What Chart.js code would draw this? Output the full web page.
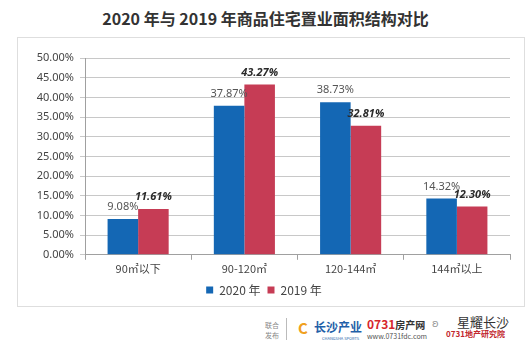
<!DOCTYPE html>
<html lang="zh">
  <head>
    <meta charset="UTF-8" />
    <title>面积结构对比</title>
    <script src="https://cdn.jsdelivr.net/npm/chart.js/dist/chart.umd.min.js"></script>
    <style>
      body {
        margin: 0;
        width: 531px;
        height: 345px;
        background: #fff;
        position: relative;
        overflow: hidden;
        font-family: "Noto Sans CJK SC", "Noto Sans", sans-serif;
      }
      .title {
        position: absolute;
        left: 0;
        width: 531px;
        top: 6px;
        text-align: center;
        font-size: 16px;
        font-weight: bold;
        color: #333;
      }
      .box {
        position: absolute;
        left: 17px;
        top: 37px;
        width: 508px;
        height: 270px;
        border: 1px solid #dedede;
        box-sizing: border-box;
      }
      .chart-wrap {
        position: relative;
        width: 506px;
        height: 268px;
      }
      .foot {
        position: absolute;
        white-space: nowrap;
        line-height: 1;
      }
    </style>
  </head>
  <body>
    <div class="title">2020 年与 2019 年商品住宅置业面积结构对比</div>
    <div class="box">
      <div class="chart-wrap"><canvas id="areaChart"></canvas></div>
    </div>

    <div class="foot" style="left:265px;top:320px;font-size:7px;color:#888;line-height:10px">联合<br>发布</div>
    <div class="foot" style="left:286px;top:318px;width:1px;height:22px;background:#bbb"></div>
    <div class="foot" style="left:298px;top:320px;font-size:15px;font-weight:bold;color:#f0a020">C</div>
    <div class="foot" style="left:314px;top:321px;font-size:12px;font-weight:bold;color:#1f5fa8">长沙产业</div>
    <div class="foot" style="left:322px;top:336px;font-size:4px;color:#1f5fa8">CHANGSHA SPORTS</div>
    <div class="foot" style="left:367px;top:318px;font-size:12px;font-weight:bold;color:#d6262c">0731<span style="font-size:10px;color:#333">房产网</span></div>
    <div class="foot" style="left:367px;top:333px;font-size:7px;color:#555">www.0731fdc.com</div>
    <div class="foot" style="left:432px;top:317px;font-size:11px;color:#999">ʚ</div>
    <div class="foot" style="left:457px;top:315px;font-size:13px;color:#333">星耀长沙</div>
    <div class="foot" style="left:446px;top:330px;font-size:8px;font-weight:bold;color:#c2272d">0731地产研究院</div>

    <script>
      // 数据
      const categories = ["90㎡以下", "90-120㎡", "120-144㎡", "144㎡以上"];
      const seriesNames = ["2020 年", "2019 年"];
      const values2020 = [9.08, 37.87, 38.73, 14.32];
      const values2019 = [11.61, 43.27, 32.81, 12.30];

      // 柱顶数值标签
      const valueLabels = {
        id: "valueLabels",
        afterDatasetsDraw(chart) {
          const ctx = chart.ctx;
          ctx.save();
          ctx.textAlign = "center";
          ctx.textBaseline = "middle";
          chart.data.datasets.forEach((ds, i) => {
            const meta = chart.getDatasetMeta(i);
            if (i === 0) {
              ctx.font = '11px "Noto Sans", sans-serif';
              ctx.fillStyle = "#555";
            } else {
              ctx.font = 'italic bold 11px "Noto Sans", sans-serif';
              ctx.fillStyle = "#2a2a2a";
            }
            meta.data.forEach((bar, j) => {
              ctx.fillText(ds.data[j].toFixed(2) + "%", bar.x, bar.y - 12);
            });
          });
          ctx.restore();
        },
      };

      new Chart(document.getElementById("areaChart"), {
        type: "bar",
        data: {
          labels: categories,
          datasets: [
            {
              label: seriesNames[0],
              data: values2020,
              backgroundColor: "#1467b4",
              categoryPercentage: 0.575,
              barPercentage: 1,
            },
            {
              label: seriesNames[1],
              data: values2019,
              backgroundColor: "#c63c55",
              categoryPercentage: 0.575,
              barPercentage: 1,
            },
          ],
        },
        options: {
          responsive: true,
          maintainAspectRatio: false,
          animation: false,
          layout: { padding: { top: 20, right: 14, left: 0, bottom: 0 } },
          plugins: {
            tooltip: { enabled: false },
            legend: {
              position: "bottom",
              labels: {
                usePointStyle: true,
                pointStyle: "rect",
                boxWidth: 7,
                boxHeight: 7,
                padding: 7,
                color: "#444",
                font: { size: 12, family: '"Noto Sans CJK SC", sans-serif' },
              },
            },
          },
          scales: {
            x: {
              offset: true,
              grid: {
                offset: true,
                drawOnChartArea: false,
                drawTicks: true,
                tickLength: 5,
                color: "#a0a0a0",
              },
              border: { color: "#a0a0a0" },
              ticks: {
                color: "#444",
                padding: 2,
                font: { size: 11, family: '"Noto Sans CJK SC", sans-serif' },
              },
            },
            y: {
              min: 0,
              max: 50,
              afterFit(scale) {
                scale.width = 67;
              },
              grid: { color: "#c8c8c8", tickLength: 5, lineWidth: 1 },
              border: { color: "#a0a0a0" },
              ticks: {
                stepSize: 5,
                color: "#444",
                padding: 6,
                font: { size: 11, family: '"Noto Sans", sans-serif' },
                callback: (v) => v.toFixed(2) + "%",
              },
            },
          },
        },
        plugins: [valueLabels],
      });
    </script>
  </body>
</html>
